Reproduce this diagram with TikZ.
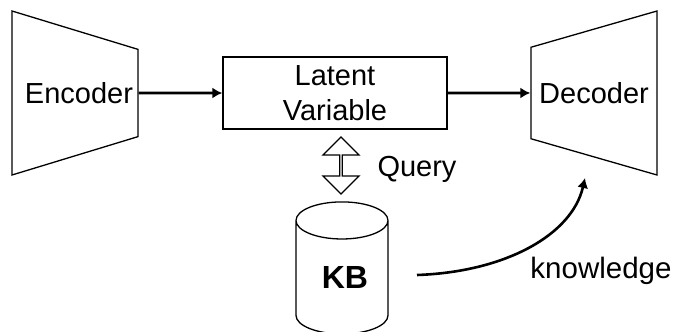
\documentclass[tikz,border=0pt]{standalone}
\usepackage{fontspec}
\setmainfont{Liberation Sans}
\usetikzlibrary{arrows.meta,shapes.geometric,shapes.arrows}

\tikzset{
  label/.style={font=\fontsize{29}{35}\selectfont, inner sep=0pt},
  coder/.style={draw, line width=1.3pt, trapezium, trapezium stretches body=true,
                trapezium angle=71.7, minimum width=164pt, minimum height=126pt,
                inner sep=0pt, font=\fontsize{29}{35}\selectfont},
  flow/.style={line width=2.6pt, -{Latex[length=10pt,width=11pt]}}
}

\begin{document}
\begin{tikzpicture}[x=1pt, y=-1pt]
  \useasboundingbox (0,0) rectangle (673,332);

  \node[coder, shape border rotate=270] (encoder) at (75,93) {\hspace*{8pt}Encoder};
  \node[coder, shape border rotate=90] (decoder) at (594,93) {Decoder};
  \node[draw, line width=1.3pt, minimum width=224pt, minimum height=72pt, inner sep=0pt,
        align=center, label] (latent) at (335,93) {Latent\\Variable};

  \node[draw, line width=1.3pt, double arrow, rotate=90, minimum height=57pt, minimum width=36pt,
        double arrow head extend=9pt, inner sep=0pt, double arrow tip angle=90] (query) at (341,165.5) {};
  \node[label] (querytext) at (417,169) {Query};

  \node[draw, line width=1.3pt, cylinder, shape border rotate=90, aspect=0.71,
        minimum width=92pt, minimum height=132pt, inner sep=0pt,
        font=\fontsize{32}{35}\selectfont\bfseries] (kb) at (342,277.5) {\hspace*{6pt}KB};

  \coordinate (kbout) at (417,275);
  \coordinate (decin) at (585,178);
  \node[label, font=\fontsize{29.5}{35}\selectfont] (knowledge) at (601,271) {knowledge};

  \draw[flow] (encoder.east) -- (latent.west);
  \draw[flow] (latent.east) -- (decoder.west);
  \draw[flow] (kbout) .. controls (505,272) and (572,235) .. (decin);
\end{tikzpicture}
\end{document}
